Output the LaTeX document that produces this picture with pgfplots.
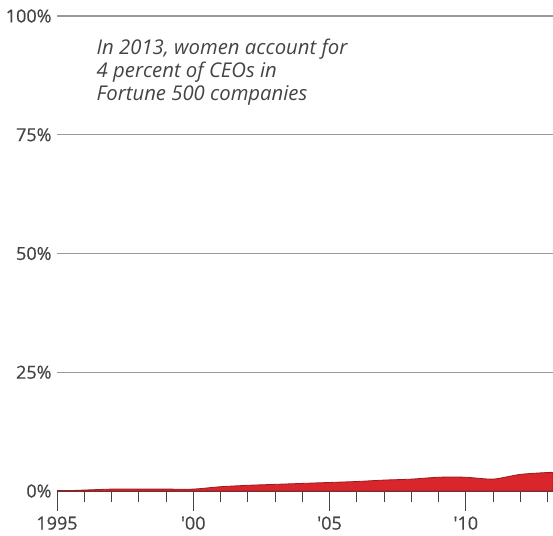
\documentclass[border=0pt]{standalone}
\usepackage{pgfplots}
\pgfplotsset{compat=1.18}
\usepackage{fontspec}
\setmainfont{Open Sans}
\newfontfamily\labfont{Open Sans}[FakeBold=0.6]
\definecolor{areared}{HTML}{D8262C}
\definecolor{areadark}{HTML}{9E1A1C}
\definecolor{labgray}{HTML}{444444}
\definecolor{gridgray}{HTML}{9A9A9A}
\begin{document}
\begin{tikzpicture}
\begin{axis}[
  scale only axis,
  width=496pt, height=475pt,
  xmin=1995, xmax=2013.2,
  ymin=0, ymax=100,
  axis lines*=left,
  y axis line style={draw=none},
  x axis line style={draw=labgray, line width=1.2pt},
  xtick={1995,2000,2005,2010},
  xticklabels={1995,'00,'05,'10},
  minor xtick={1996,1997,1998,1999,2001,2002,2003,2004,2006,2007,2008,2009,2011,2012,2013},
  major tick length=20pt,
  minor tick length=11pt,
  tick align=outside,
  xtick style={draw=labgray, line width=1pt},
  minor tick style={draw=labgray, line width=1pt},
  ytick={0,25,50,75,100},
  yticklabels={0\%,25\%,50\%,75\%,100\%},
  ytick style={draw=none},
  ymajorgrids,
  grid style={draw=gridgray, line width=1.3pt},
  tick label style={font=\labfont\fontsize{18}{20}\selectfont, text=labgray},
  yticklabel style={xshift=18pt},
  xticklabel style={yshift=-2pt},
  clip=false,
]
\coordinate (bl) at (rel axis cs:0,0);
\coordinate (tr) at (rel axis cs:1,1);
\addplot[fill=areared, draw=areadark, line width=0.8pt, smooth, tension=0.4] coordinates {
(1995,0.0) (1996,0.2) (1997,0.4) (1998,0.4) (1999,0.4) (2000,0.4)
(2001,0.9) (2002,1.2) (2003,1.4) (2004,1.6) (2005,1.8) (2006,2.0)
(2007,2.3) (2008,2.5) (2009,2.9) (2010,2.9) (2011,2.5) (2012,3.5)
(2013,3.9) (2013.2,3.9)
} \closedcycle;
\node[anchor=north west, align=left, text=labgray, inner sep=0pt,
      font=\fontsize{20.3}{23}\selectfont\itshape]
  at (axis cs:1996.45,95.2)
  {In 2013, women account for\\4 percent of CEOs in\\Fortune 500 companies};
\end{axis}
\pgfresetboundingbox
\useasboundingbox ([xshift=-57pt,yshift=-44pt]bl) rectangle ([yshift=16pt]tr);
\end{tikzpicture}
\end{document}
